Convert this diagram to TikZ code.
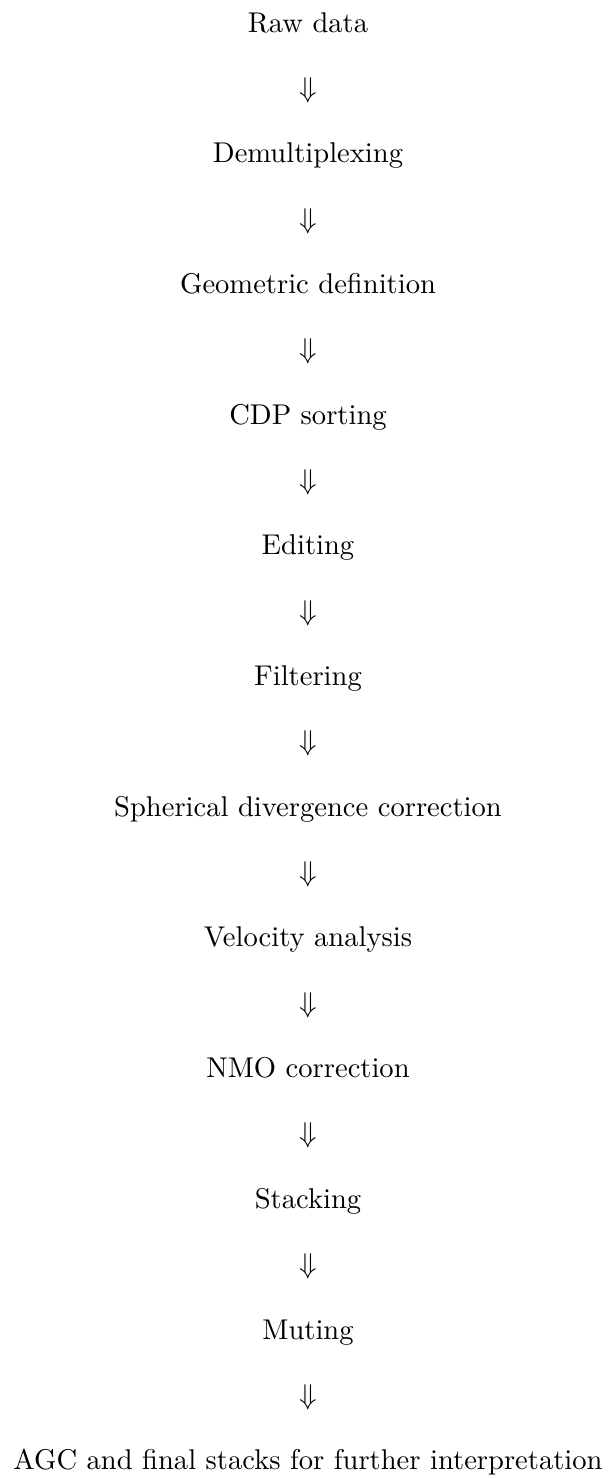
\documentclass[tikz,border=0pt]{standalone}
\begin{document}
\begin{tikzpicture}[x=0.35pt,y=-0.35pt,
  stage/.style={anchor=base,inner sep=0pt},
  darrow/.style={anchor=base,inner sep=0pt}]
\useasboundingbox (0,0) rectangle (612,1478);
\node[stage] (s0) at (308,32.0) {Raw data};
\node[darrow] (a0) at (308,97.35) {$\Downarrow$};
\node[stage] (s1) at (308,162.7) {Demultiplexing};
\node[darrow] (a1) at (308,228.05) {$\Downarrow$};
\node[stage] (s2) at (308,293.4) {Geometric definition};
\node[darrow] (a2) at (308,358.75) {$\Downarrow$};
\node[stage] (s3) at (308,424.1) {CDP sorting};
\node[darrow] (a3) at (308,489.45) {$\Downarrow$};
\node[stage] (s4) at (308,554.8) {Editing};
\node[darrow] (a4) at (308,620.15) {$\Downarrow$};
\node[stage] (s5) at (308,685.5) {Filtering};
\node[darrow] (a5) at (308,750.85) {$\Downarrow$};
\node[stage] (s6) at (308,816.2) {Spherical divergence correction};
\node[darrow] (a6) at (308,881.55) {$\Downarrow$};
\node[stage] (s7) at (308,946.9) {Velocity analysis};
\node[darrow] (a7) at (308,1012.25) {$\Downarrow$};
\node[stage] (s8) at (308,1077.6) {NMO correction};
\node[darrow] (a8) at (308,1142.95) {$\Downarrow$};
\node[stage] (s9) at (308,1208.3) {Stacking};
\node[darrow] (a9) at (308,1273.65) {$\Downarrow$};
\node[stage] (s10) at (308,1339.0) {Muting};
\node[darrow] (a10) at (308,1404.35) {$\Downarrow$};
\node[stage] (s11) at (308,1469.7) {AGC and final stacks for further interpretation};
\end{tikzpicture}
\end{document}
